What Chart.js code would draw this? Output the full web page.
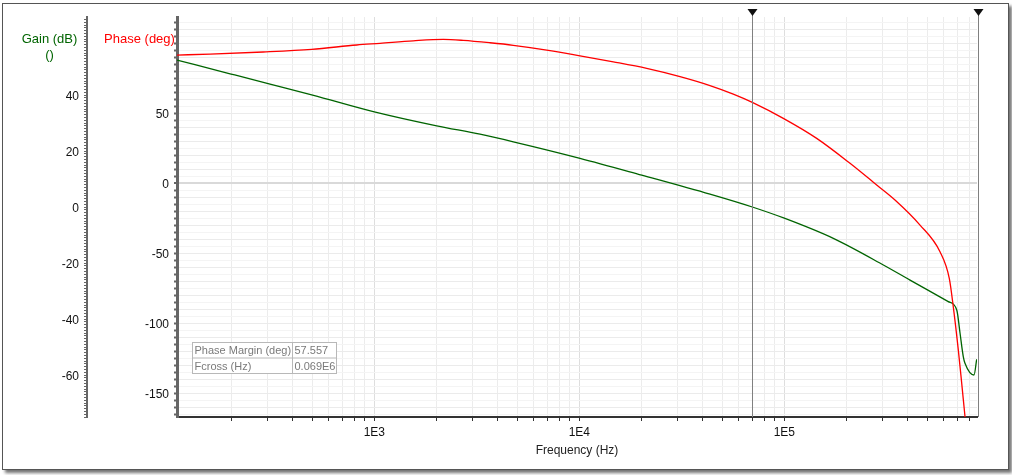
<!DOCTYPE html>
<html lang="en">
<head>
<meta charset="UTF-8">
<title>Loop Gain / Phase</title>
<script src="https://cdn.jsdelivr.net/npm/chart.js"></script>
<style>
    html, body {
        margin: 0;
        padding: 0;
        background: #fff;
    }
    body {
        width: 1012px;
        height: 475px;
        position: relative;
        overflow: hidden;
        font-family: 'Liberation Sans', Arial, sans-serif;
    }
    .frame {
        position: absolute;
        left: 2px;
        top: 3px;
        width: 1005px;
        height: 465px;
        border: 1px solid #555;
        box-shadow: 3px 3px 3px rgba(0, 0, 0, 0.55);
        background: #fff;
    }
    .chart-box {
        position: absolute;
        left: 0;
        top: 0;
        width: 1012px;
        height: 475px;
    }
</style>
</head>
<body>
<div class="frame"></div>
<div class="chart-box"><canvas id="bode"></canvas></div>

<script>
    // Gain curve (dB)
    const gainFreq = [109, 200, 310, 500, 1000, 2016, 3279, 4764, 10080, 20160, 43400, 69800,
        100000, 173400, 304300, 410500, 630900, 693800, 720000, 747000, 761000, 842000, 868000];
    const gainDb = [52.5, 47.5, 43.9, 40.0, 34.0, 29.0, 26.0, 23.3, 17.4, 11.4, 4.6, 0.0,
        -4.0, -11.2, -20.7, -26.1, -33.8, -36.8, -45.1, -53.5, -55.8, -60.0, -54.4];

    // Phase curve (deg)
    const phaseFreq = [109, 158, 287, 495, 821, 1066, 1549, 2171, 2716, 3667, 4764, 6934, 10080,
        14650, 21320, 31000, 43400, 56380, 69800, 98900, 143900, 209200, 282300, 346700,
        459200, 574800, 638000, 667400, 706200, 733600, 761300, 790000];
    const phaseDeg = [91.4, 92.1, 93.6, 95.5, 98.6, 99.8, 101.6, 102.6, 101.9, 100.2, 98.4, 95.0, 90.9,
        86.6, 81.9, 76.0, 69.6, 63.5, 57.6, 46.2, 31.9, 14.1, -1.4, -12.1,
        -30.0, -49.1, -68.1, -88.4, -119.3, -143.1, -166.9, -190.0];

    // Cursor markers (Hz)
    const markerFreqs = [69800, 880000];

    // Tick labels
    const xMajorTicks = [1000, 10000, 100000];
    const xMajorLabels = ['1E3', '1E4', '1E5'];
    const gainLabelValues = [40, 20, 0, -20, -40, -60];
    const phaseLabelValues = [50, 0, -50, -100, -150];

    // Result table
    const tableNames = ['Phase Margin (deg)', 'Fcross (Hz)'];
    const tableValues = ['57.557', '0.069E6'];

    const FONT = "'Liberation Sans', Arial, sans-serif";
    const GREEN = '#006400';
    const RED = '#ff0000';

    function logTicks(min, max) {
        const out = [];
        for (let e = 2; e <= 5; e++) {
            for (let m = 1; m <= 9; m++) {
                const v = m * Math.pow(10, e);
                if (v >= min && v <= max) out.push({ value: v });
            }
        }
        return out;
    }

    function stepTicks(from, to, step) {
        const out = [];
        for (let v = from; v <= to; v += step) out.push({ value: v });
        return out;
    }

    const overlay = {
        id: 'overlay',
        afterDatasetsDraw(chart) {
            const ctx = chart.ctx;
            const xs = chart.scales.x;
            const area = chart.chartArea;
            ctx.save();

            // cursor lines with triangles
            markerFreqs.forEach(f => {
                const px = Math.round(xs.getPixelForValue(f)) + 0.5;
                ctx.strokeStyle = '#808080';
                ctx.lineWidth = 1;
                ctx.beginPath();
                ctx.moveTo(px, 13);
                ctx.lineTo(px, area.bottom);
                ctx.stroke();
                ctx.fillStyle = '#111';
                ctx.beginPath();
                ctx.moveTo(px - 5, 9);
                ctx.lineTo(px + 5, 9);
                ctx.lineTo(px, 16);
                ctx.closePath();
                ctx.fill();
            });

            // result table
            const tx = 192.5, ty = 342.5, colSplit = 292.5, rowH = 15.5, tw = 144;
            ctx.fillStyle = '#fff';
            ctx.fillRect(tx, ty, tw, rowH * 2);
            ctx.strokeStyle = '#b8b8b8';
            ctx.lineWidth = 1;
            ctx.strokeRect(tx, ty, tw, rowH * 2);
            ctx.beginPath();
            ctx.moveTo(tx, ty + rowH);
            ctx.lineTo(tx + tw, ty + rowH);
            ctx.moveTo(colSplit, ty);
            ctx.lineTo(colSplit, ty + rowH * 2);
            ctx.stroke();
            ctx.font = '11px ' + FONT;
            ctx.fillStyle = '#7a7a7a';
            ctx.textBaseline = 'middle';
            ctx.textAlign = 'left';
            tableNames.forEach((name, i) => {
                ctx.fillText(name, tx + 2, ty + rowH * i + rowH / 2 + 1);
                ctx.fillText(tableValues[i], colSplit + 2, ty + rowH * i + rowH / 2 + 1);
            });
            ctx.restore();
        },
        afterDraw(chart) {
            const ctx = chart.ctx;
            ctx.save();
            ctx.font = '13px ' + FONT;
            ctx.textAlign = 'center';
            ctx.textBaseline = 'middle';
            ctx.fillStyle = GREEN;
            ctx.fillText('Gain (dB)', 49.5, 39);
            ctx.fillText('()', 49.5, 55.5);
            ctx.fillStyle = RED;
            ctx.fillText('Phase (deg)', 139.5, 39);
            ctx.restore();
        }
    };

    Chart.defaults.font.family = FONT;
    Chart.defaults.font.size = 12;

    const chart = new Chart(document.getElementById('bode'), {
        type: 'line',
        data: {
            datasets: [
                {
                    label: 'Phase (deg)',
                    data: phaseFreq.map((f, i) => ({ x: f, y: phaseDeg[i] })),
                    yAxisID: 'phase',
                    borderColor: RED,
                    borderWidth: 1.3,
                    pointRadius: 0,
                    cubicInterpolationMode: 'monotone'
                },
                {
                    label: 'Gain (dB)',
                    data: gainFreq.map((f, i) => ({ x: f, y: gainDb[i] })),
                    yAxisID: 'gain',
                    borderColor: GREEN,
                    borderWidth: 1.3,
                    pointRadius: 0,
                    cubicInterpolationMode: 'monotone'
                }
            ]
        },
        options: {
            responsive: true,
            maintainAspectRatio: false,
            animation: false,
            layout: { padding: { top: 17, right: 35, bottom: 14, left: 0 } },
            plugins: {
                legend: { display: false },
                tooltip: { enabled: false }
            },
            scales: {
                x: {
                    type: 'logarithmic',
                    position: 'bottom',
                    min: 109,
                    max: 871000,
                    afterBuildTicks: s => { s.ticks = logTicks(s.min, s.max); },
                    afterFit: s => { s.height = 44; },
                    ticks: {
                        autoSkip: false,
                        maxRotation: 0,
                        padding: 4,
                        color: '#111',
                        callback: v => {
                            const i = xMajorTicks.indexOf(v);
                            return i >= 0 ? xMajorLabels[i] : '';
                        }
                    },
                    grid: {
                        color: c => (c.tick && xMajorTicks.includes(c.tick.value)) ? '#dedede' : '#ececec',
                        tickColor: '#333',
                        tickLength: 4
                    },
                    border: { color: '#333', width: 2 },
                    title: {
                        display: true,
                        text: 'Frequency (Hz)',
                        color: '#222',
                        padding: { top: 4, bottom: 3 }
                    }
                },
                phase: {
                    type: 'linear',
                    position: 'left',
                    weight: 1,
                    min: -167.1,
                    max: 118.6,
                    afterBuildTicks: s => { s.ticks = stepTicks(-165, 115, 5); },
                    afterFit: s => { s.width = 90; },
                    ticks: {
                        autoSkip: false,
                        padding: 5,
                        labelOffset: 1.5,
                        color: '#111',
                        callback: v => phaseLabelValues.includes(v) ? String(v) : ''
                    },
                    grid: {
                        color: c => {
                            const v = c.tick ? c.tick.value : 1;
                            if (v === 0) return '#d9d9d9';
                            return v % 10 === 0 ? '#ebebeb' : '#f4f4f4';
                        },
                        lineWidth: c => (c.tick && c.tick.value === 0) ? 2 : 1,
                        tickColor: '#666',
                        tickWidth: 2,
                        tickLength: 3
                    },
                    border: { color: '#666', width: 3 }
                },
                gain: {
                    type: 'linear',
                    position: 'left',
                    weight: 2,
                    min: -75,
                    max: 67.86,
                    afterBuildTicks: s => { s.ticks = stepTicks(-75, 67, 1); },
                    afterFit: s => { s.width = 87; },
                    ticks: {
                        autoSkip: false,
                        padding: 5,
                        labelOffset: 1.5,
                        color: '#111',
                        callback: v => gainLabelValues.includes(v) ? String(v) : ''
                    },
                    grid: {
                        drawOnChartArea: false,
                        color: '#666',
                        tickColor: '#666',
                        tickLength: 3
                    },
                    border: { color: '#666', width: 2 }
                }
            }
        },
        plugins: [overlay]
    });
</script>
</body>
</html>
